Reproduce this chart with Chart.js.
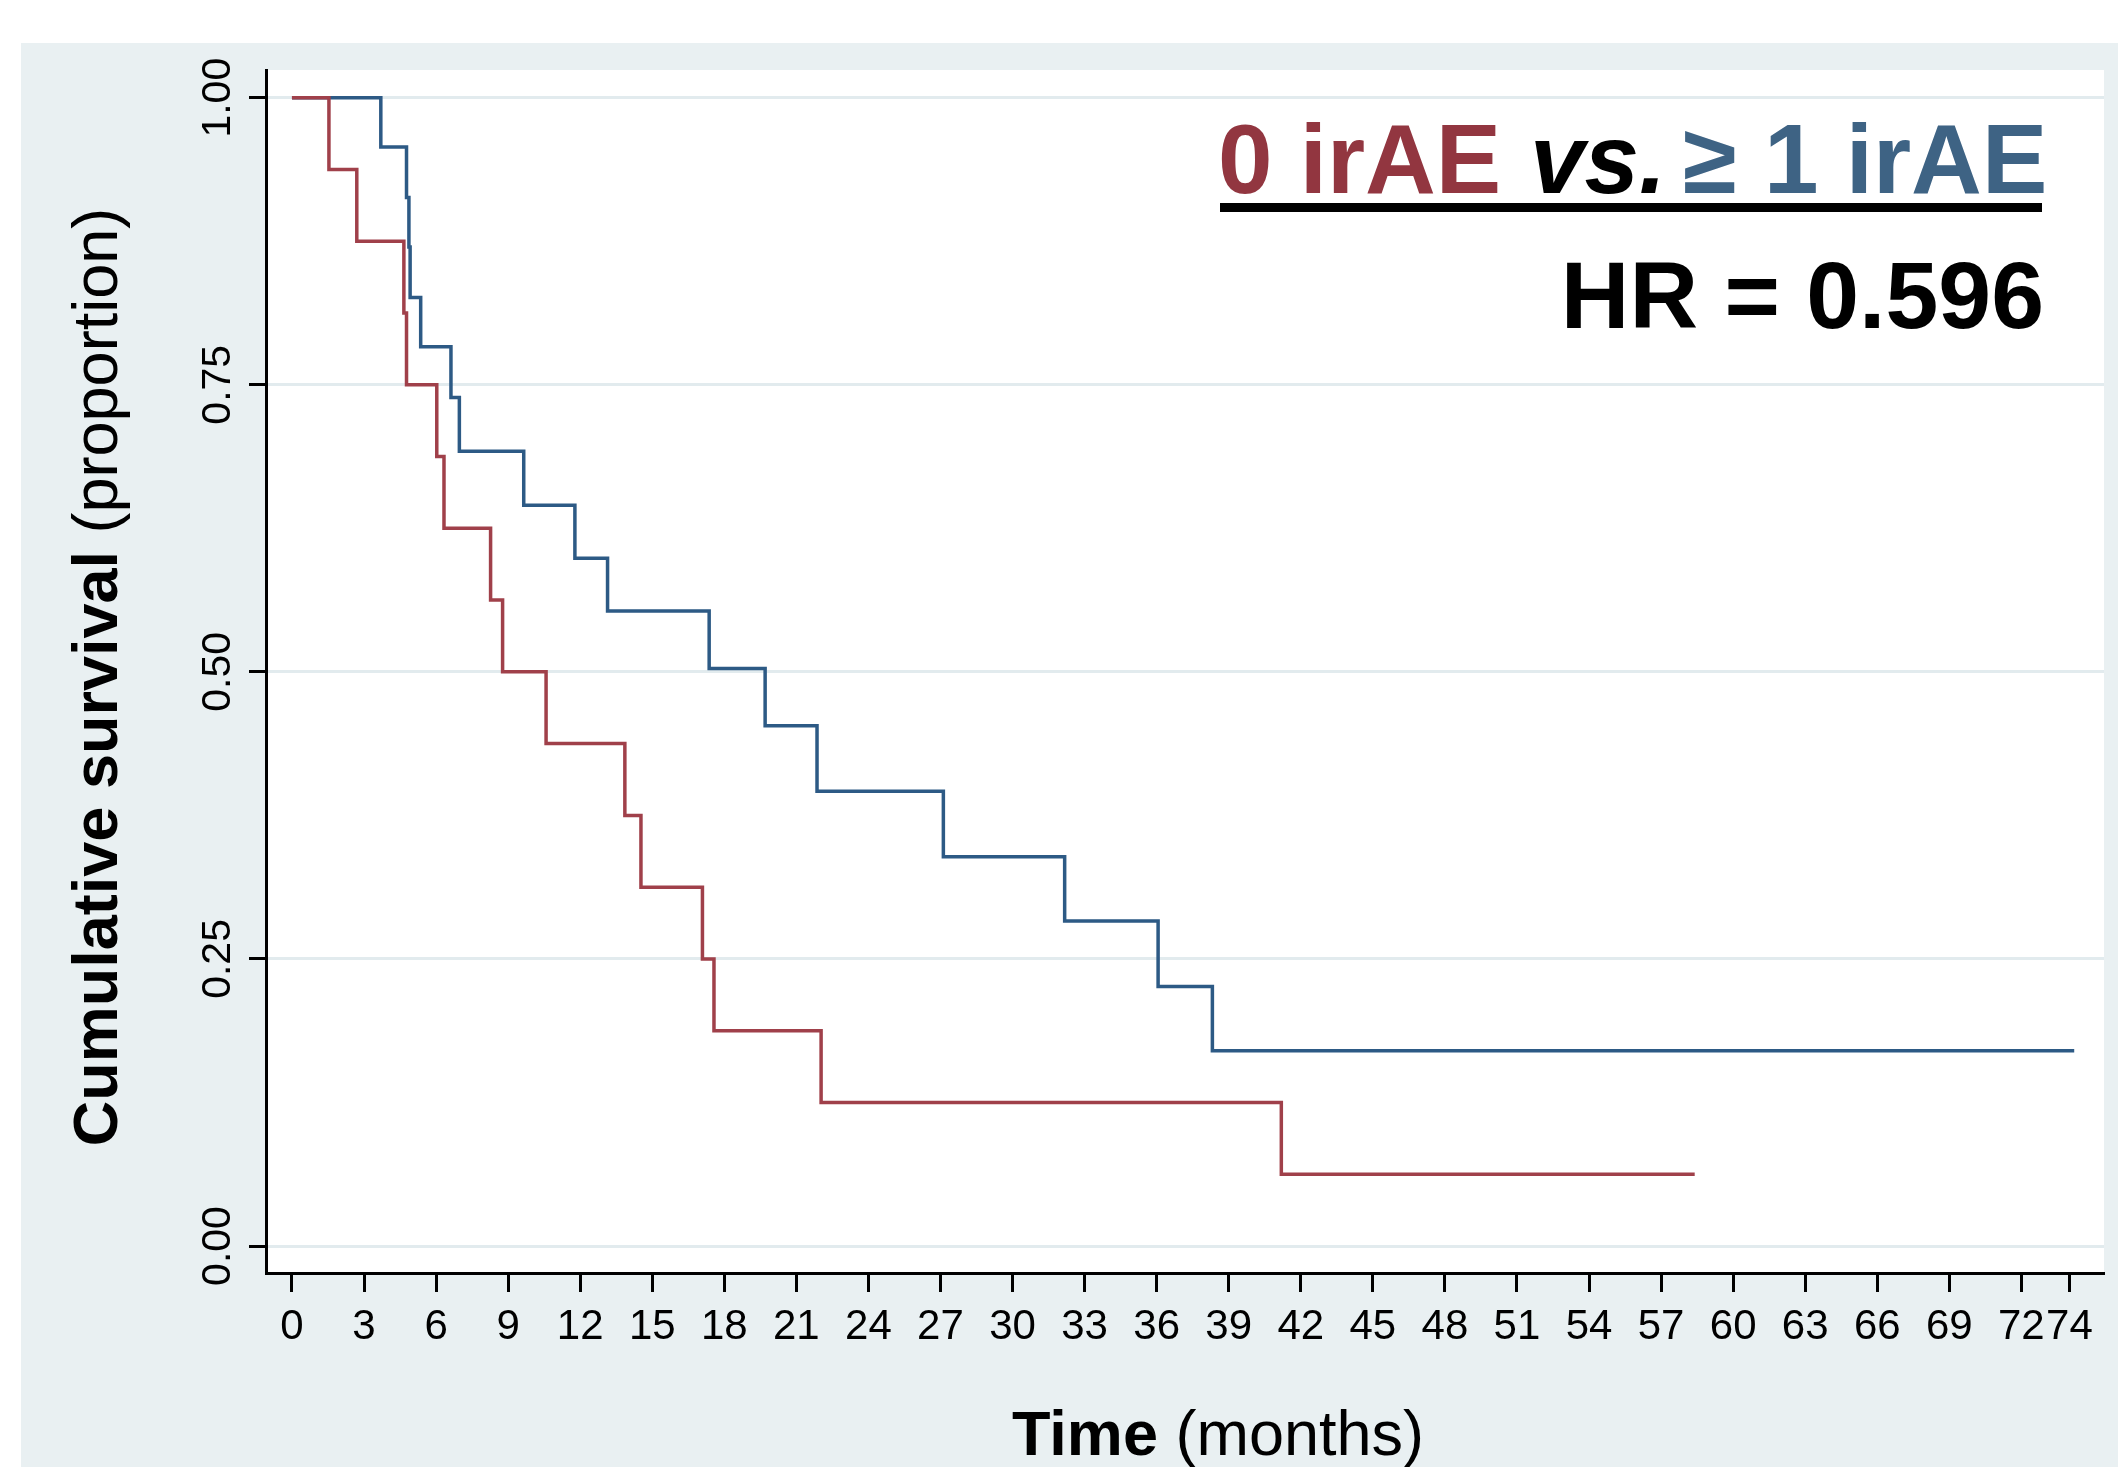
<!DOCTYPE html>
<html>
<head>
<meta charset="utf-8">
<script src="https://cdn.jsdelivr.net/npm/chart.js@4.4.1/dist/chart.umd.min.js"></script>
<style>
  html, body { margin: 0; padding: 0; background: #ffffff; }
  #kmChart { display: block; }
</style>
</head>
<body>
<canvas id="kmChart" width="2118" height="1467"></canvas>
<script>
// Kaplan-Meier steps (time in months, survival proportion)
var noIraeTimes = [0, 1.54, 2.7, 4.66, 4.77, 6.03, 6.33, 8.27, 8.77, 10.58, 13.86, 14.53, 17.09, 17.57, 22.03, 41.19, 58.4];
var noIraeSurv  = [1, 0.9375, 0.875, 0.8125, 0.75, 0.6875, 0.625, 0.5625, 0.5, 0.4375, 0.375, 0.3125, 0.25, 0.1875, 0.125, 0.0625, 0.0625];

var iraeTimes = [0, 3.7, 4.77, 4.87, 4.92, 5.36, 6.62, 6.97, 9.65, 11.78, 13.14, 17.37, 19.7, 21.86, 27.12, 32.17, 36.06, 38.32, 74.2];
var iraeSurv  = [1, 0.957, 0.913, 0.870, 0.826, 0.783, 0.739, 0.692, 0.645, 0.599, 0.553, 0.503, 0.453, 0.396, 0.339, 0.283, 0.226, 0.170, 0.170];

var xTickValues = [0, 3, 6, 9, 12, 15, 18, 21, 24, 27, 30, 33, 36, 39, 42, 45, 48, 51, 54, 57, 60, 63, 66, 69, 72, 74];
var yTickValues = [0, 0.25, 0.5, 0.75, 1];

var RED = '#a0404a';
var BLUE = '#2d5a85';
var FONT = '"Liberation Sans", Arial, Helvetica, sans-serif';

function toPoints(times, surv){
    return times.map(function(t, i){ return {x: t, y: surv[i]}; });
}

var backdrop = {
    id: 'backdrop',
    beforeDraw: function(chart){
        var ctx = chart.ctx, a = chart.chartArea;
        ctx.save();
        ctx.fillStyle = '#ffffff';
        ctx.fillRect(0, 0, chart.width, chart.height);
        ctx.fillStyle = '#e9f0f2';
        ctx.fillRect(21, 43, chart.width - 21, chart.height - 43);
        ctx.fillStyle = '#ffffff';
        ctx.fillRect(a.left, a.top, a.right - a.left, a.bottom - a.top);
        ctx.restore();
    }
};

// axis titles with a bold + regular part, and the HR box
var labels = {
    id: 'labels',
    afterDraw: function(chart){
        var ctx = chart.ctx;
        ctx.save();
        ctx.fillStyle = '#000000';
        ctx.textBaseline = 'alphabetic';
        ctx.textAlign = 'left';

        // y title
        var boldY = 'bold 63px ' + FONT, normY = '63px ' + FONT;
        ctx.font = boldY;
        var w1 = ctx.measureText('Cumulative survival').width;
        ctx.font = normY;
        var w2 = ctx.measureText(' (proportion)').width;
        ctx.translate(117, 677);
        ctx.rotate(-Math.PI / 2);
        ctx.font = boldY;
        ctx.fillText('Cumulative survival', -(w1 + w2) / 2, 0);
        ctx.font = normY;
        ctx.fillText(' (proportion)', -(w1 + w2) / 2 + w1, 0);
        ctx.setTransform(1, 0, 0, 1, 0, 0);

        // x title
        ctx.font = 'bold 63px ' + FONT;
        var t1 = ctx.measureText('Time').width;
        ctx.font = '63px ' + FONT;
        var t2 = ctx.measureText(' (months)').width;
        var sx = 1218 - (t1 + t2) / 2;
        ctx.font = 'bold 63px ' + FONT;
        ctx.fillText('Time', sx, 1455);
        ctx.font = '63px ' + FONT;
        ctx.fillText(' (months)', sx + t1, 1455);

        // legend text
        ctx.font = 'bold 98px ' + FONT;
        ctx.fillStyle = '#923640';
        ctx.fillText('0 irAE', 1218, 193);
        ctx.font = 'italic bold 98px ' + FONT;
        ctx.fillStyle = '#000000';
        ctx.fillText('vs.', 1530, 193);
        ctx.font = 'bold 98px ' + FONT;
        ctx.fillStyle = '#3e6384';
        ctx.fillText('\u2265 1 irAE', 1683, 193);

        ctx.fillStyle = '#000000';
        ctx.fillRect(1220, 203, 822, 9);

        ctx.font = 'bold 95px ' + FONT;
        ctx.textAlign = 'right';
        ctx.fillText('HR = 0.596', 2044, 328);
        ctx.restore();
    }
};

var myKmChart;
function Drawgraphonfront(){
    var ctx = document.getElementById('kmChart').getContext('2d');
    myKmChart = new Chart(ctx, {
        type: 'line',
        data: {
            datasets: [
                {
                    label: '0 irAE',
                    data: toPoints(noIraeTimes, noIraeSurv),
                    borderColor: RED,
                    borderWidth: 3.5,
                    stepped: 'before',
                    pointRadius: 0,
                    fill: false
                },
                {
                    label: '\u2265 1 irAE',
                    data: toPoints(iraeTimes, iraeSurv),
                    borderColor: BLUE,
                    borderWidth: 3.5,
                    stepped: 'before',
                    pointRadius: 0,
                    fill: false
                }
            ]
        },
        options: {
            responsive: false,
            animation: false,
            layout: { padding: { left: 0, right: 14, top: 70, bottom: 0 } },
            plugins: {
                legend: { display: false },
                tooltip: { enabled: false },
                title: { display: false }
            },
            scales: {
                x: {
                    type: 'linear',
                    min: -1.08,
                    max: 75.44,
                    afterBuildTicks: function(scale){
                        scale.ticks = xTickValues.map(function(v){ return {value: v}; });
                    },
                    afterFit: function(scale){ scale.height = 194; },
                    grid: {
                        drawOnChartArea: false,
                        drawTicks: true,
                        tickLength: 19,
                        tickColor: '#000000',
                        tickWidth: 3
                    },
                    border: { display: true, color: '#000000', width: 3 },
                    ticks: {
                        autoSkip: false,
                        maxRotation: 0,
                        padding: 10,
                        color: '#000000',
                        font: { family: FONT, size: 42 },
                        callback: function(v){ return String(v); }
                    }
                },
                y: {
                    type: 'linear',
                    min: -0.0235,
                    max: 1.0241,
                    afterBuildTicks: function(scale){
                        scale.ticks = yTickValues.map(function(v){ return {value: v}; });
                    },
                    afterFit: function(scale){ scale.width = 266; },
                    grid: {
                        color: '#e2ebee',
                        lineWidth: 3,
                        drawTicks: true,
                        tickLength: 17,
                        tickColor: '#000000',
                        tickWidth: 3
                    },
                    border: { display: true, color: '#000000', width: 3 },
                    ticks: {
                        autoSkip: false,
                        minRotation: 90,
                        maxRotation: 90,
                        crossAlign: 'center',
                        padding: -10,
                        color: '#000000',
                        font: { family: FONT, size: 41 },
                        callback: function(v){ return v.toFixed(2); }
                    }
                }
            }
        },
        plugins: [backdrop, labels]
    });
}

Drawgraphonfront();
</script>
</body>
</html>
